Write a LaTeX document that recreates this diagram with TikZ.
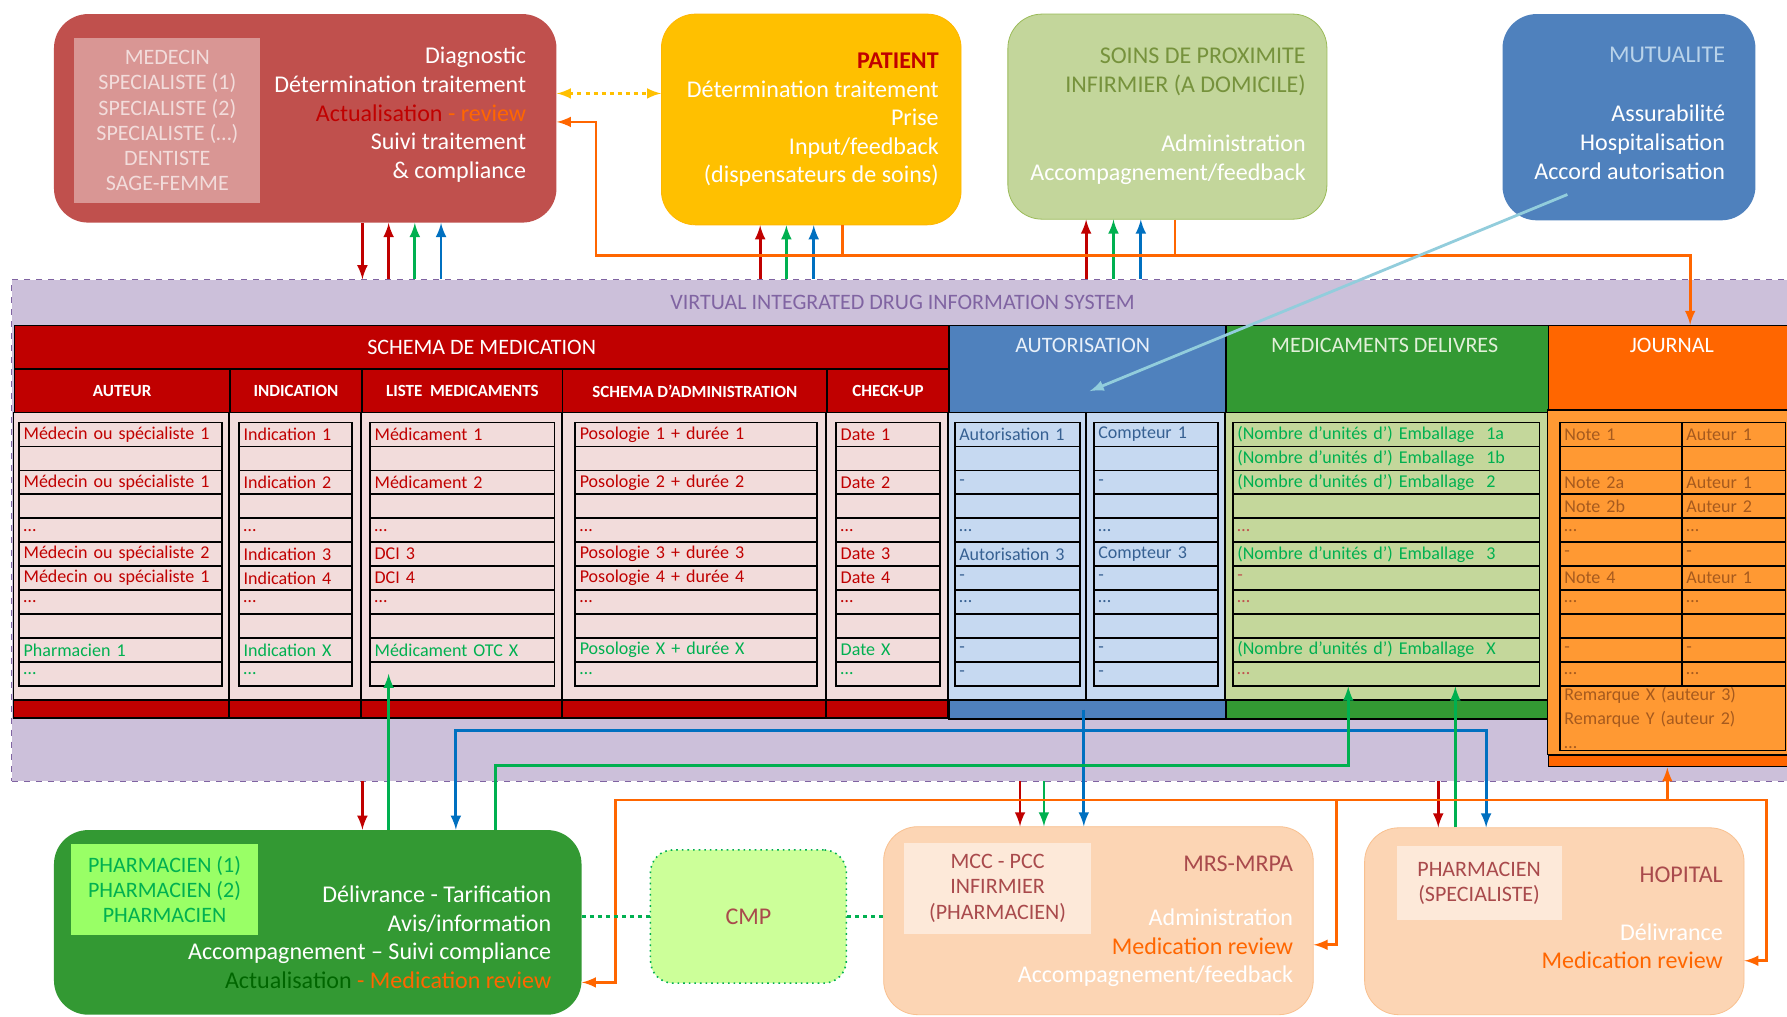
\documentclass[tikz,border=0pt]{standalone}
\usepackage{fontspec}
\setmainfont{Carlito}
\usepackage{xcolor}
\usetikzlibrary{positioning,arrows}

\definecolor{medred}{HTML}{C0504D}
\definecolor{medpink}{HTML}{D99694}
\definecolor{palepink}{HTML}{F2DCDB}
\definecolor{patyellow}{HTML}{FFC000}
\definecolor{soinsgreen}{HTML}{C3D69B}
\definecolor{soinsline}{HTML}{9BBB59}
\definecolor{olivetext}{HTML}{76923C}
\definecolor{mutblue}{HTML}{4F81BD}
\definecolor{mutpale}{HTML}{B9D3EA}
\definecolor{vidisfill}{HTML}{CCC0DA}
\definecolor{vidisline}{HTML}{8064A2}
\definecolor{tabred}{HTML}{C00000}
\definecolor{authbody}{HTML}{C6D9F1}
\definecolor{authtext}{HTML}{366092}
\definecolor{delgreen}{HTML}{339933}
\definecolor{delbody}{HTML}{C4D79B}
\definecolor{deltext}{HTML}{E2F0D9}
\definecolor{jourorange}{HTML}{FF6600}
\definecolor{jourbody}{HTML}{FF9933}
\definecolor{jourtext}{HTML}{A65A1E}
\definecolor{pharmlight}{HTML}{99FF66}
\definecolor{cmpgreen}{HTML}{CCFF99}
\definecolor{peach}{HTML}{FCD5B4}
\definecolor{peachline}{HTML}{F9C08F}
\definecolor{peachlight}{HTML}{FDE9D9}
\definecolor{rosebrown}{HTML}{A94A4C}
\definecolor{arrred}{HTML}{C00000}
\definecolor{arrgreen}{HTML}{00B050}
\definecolor{arrblue}{HTML}{0070C0}
\definecolor{arrorange}{HTML}{FF6600}
\definecolor{darkgreen}{HTML}{006600}
\definecolor{lightcyan}{HTML}{92CDDC}

\begin{document}
\begin{tikzpicture}[x=0.02cm,y=-0.02cm,>=latex,
    party/.style={rounded corners=0.6cm,anchor=north west,inner sep=0pt},
    inbox/.style={anchor=north west,inner sep=0pt},
    bigtxt/.style={anchor=north east,align=right,inner sep=0pt,font=\fontsize{12}{14.3}\selectfont},
    smalltxt/.style={align=center,inner sep=0pt,font=\fontsize{11}{12.6}\selectfont},
    hdr/.style={draw=black,line width=0.8pt,anchor=north west,inner sep=0pt},
    hdrtxt/.style={inner sep=0pt,font=\fontsize{11}{13}\selectfont},
    subhdr/.style={hdr,fill=tabred,text=white,font=\fontsize{8.5}{10}\selectfont\bfseries},
    cell/.style={draw=black,line width=0.8pt,anchor=north west,minimum height=0.42cm,
      inner xsep=0.08cm,inner ysep=0pt,align=left,text width=#1,font=\fontsize{9}{10}\selectfont},
    link/.style={line width=1.4pt}]
  \useasboundingbox (0,0) rectangle (1568,892);
  \fill[white] (0,0) rectangle (1568,892);

  % the information system band
  \node[anchor=north west,fill=vidisfill,draw=vidisline,dashed,inner sep=0pt,
    minimum width=31.4cm,minimum height=8.8cm] (vidis) at (10,245) {};
  \node[text=vidisline,font=\fontsize{11}{13}\selectfont] (vidistxt) at (792,265)
    {VIRTUAL INTEGRATED DRUG INFORMATION SYSTEM};

  % top actors
  \node[party,fill=medred,minimum width=8.82cm,minimum height=3.66cm] (medbox) at (47,12) {};
  \node[inbox,fill=medpink,minimum width=3.26cm,minimum height=2.9cm] (medlist) at (65,33) {};
  \node[smalltxt,text=palepink] (medlisttxt) at (medlist.center)
    {MEDECIN\\SPECIALISTE (1)\\SPECIALISTE (2)\\SPECIALISTE (…)\\DENTISTE\\SAGE-FEMME};
  \node[bigtxt,text=white] (medtxt) at (462,41) {Diagnostic\\Détermination traitement\\
    \textcolor{tabred}{Actualisation} \textcolor{arrorange}{- review}\\Suivi traitement\\\& compliance};

  \node[party,fill=patyellow,draw=patyellow!85!orange,minimum width=5.26cm,minimum height=3.7cm] (patient) at (580,12) {};
  \node[bigtxt,text=white] (pattxt) at (824,46) {\textcolor{tabred}{\textbf{PATIENT}}\\Détermination traitement\\
    Prise\\Input/feedback\\(dispensateurs de soins)};

  \node[party,fill=soinsgreen,draw=soinsline,minimum width=5.6cm,minimum height=3.6cm] (soins) at (884,12) {};
  \node[bigtxt,text=olivetext] (soinstitle) at (1146,42) {SOINS DE PROXIMITE\\INFIRMIER (A DOMICILE)};
  \node[bigtxt,text=white] (soinstxt) at (1146,118) {Administration\\Accompagnement/feedback};

  \node[party,fill=mutblue,minimum width=4.44cm,minimum height=3.62cm] (mutual) at (1318,12) {};
  \node[bigtxt,text=mutpale] (muttitle) at (1514,41) {MUTUALITE};
  \node[bigtxt,text=white] (muttxt) at (1514,92) {Assurabilité\\Hospitalisation\\Accord autorisation};

  % schema de medication
  \node[hdr,fill=tabred,text=white,font=\fontsize{11}{13}\selectfont,minimum width=16.4cm,minimum height=0.76cm] (schema) at (12,285) {SCHEMA DE MEDICATION};
  \node[subhdr,minimum width=3.78cm,minimum height=0.78cm] (auteur) at (12,323) {AUTEUR};
  \node[subhdr,minimum width=2.32cm,minimum height=0.78cm] (indication) at (201,323) {INDICATION};
  \node[subhdr,minimum width=3.52cm,minimum height=0.78cm] (liste) at (317,323) {LISTE \ MEDICAMENTS};
  \node[subhdr,minimum width=4.64cm,minimum height=0.78cm] (admin) at (493,323) {SCHEMA D’ADMINISTRATION};
  \node[subhdr,minimum width=2.14cm,minimum height=0.78cm] (checkup) at (725,323) {CHECK-UP};
  \foreach \xa/\xb in {12/201,201/317,317/493,493/725,725/832} {
    \draw[fill=palepink,line width=0.8pt] (\xa,362) rectangle (\xb,614);
    \draw[fill=tabred,line width=0.8pt] (\xa,614) rectangle (\xb,630);
  }
  \foreach \r/\ta/\tb/\tc/\td/\te/\col in {
      1/Médecin ou spécialiste 1/Indication 1/Médicament 1/Posologie 1 + durée 1/Date 1/tabred,
      2/{}/{}/{}/{}/{}/tabred,
      3/Médecin ou spécialiste 1/Indication 2/Médicament 2/Posologie 2 + durée 2/Date 2/tabred,
      4/{}/{}/{}/{}/{}/tabred,
      5/\ldots/\ldots/\ldots/\ldots/\ldots/tabred,
      6/Médecin ou spécialiste 2/Indication 3/DCI 3/Posologie 3 + durée 3/Date 3/tabred,
      7/Médecin ou spécialiste 1/Indication 4/DCI 4/Posologie 4 + durée 4/Date 4/tabred,
      8/\ldots/\ldots/\ldots/\ldots/\ldots/tabred,
      9/{}/{}/{}/{}/{}/tabred,
      10/Pharmacien 1/Indication X/Médicament OTC X/Posologie X + durée X/Date X/arrgreen,
      11/\ldots/\ldots/{}/\ldots/\ldots/arrgreen} {
    \node[cell=3.40cm,fill=palepink,text=\col] (au\r) at (16,{349+21*\r}) {\ta};
    \node[cell=1.82cm,fill=palepink,text=\col] (in\r) at (209,{349+21*\r}) {\tb};
    \node[cell=3.08cm,fill=palepink,text=\col] (li\r) at (324,{349+21*\r}) {\tc};
    \node[cell=4.08cm,fill=palepink,text=\col] (ad\r) at (504,{349+21*\r}) {\td};
    \node[cell=1.66cm,fill=palepink,text=\col] (ch\r) at (733,{349+21*\r}) {\te};
  }

  % autorisation
  \node[hdr,fill=mutblue,minimum width=4.86cm,minimum height=1.54cm] (authhdr) at (832,285) {};
  \node[hdrtxt,text=authbody!40!white] (authtxt) at (950,303) {AUTORISATION};
  \draw[fill=authbody,line width=0.8pt] (832,362) rectangle (1075,614);
  \draw[line width=0.8pt] (953,362) -- (953,614);
  \node[hdr,fill=mutblue,minimum width=4.86cm,minimum height=0.32cm] (authbar) at (832,614) {};
  \foreach \r/\ta/\tb in {1/Autorisation 1/Compteur 1,2/{}/{},3/-/-,4/{}/{},5/\ldots/\ldots,
      6/Autorisation 3/Compteur 3,7/-/-,8/\ldots/\ldots,9/{}/{},10/-/-,11/-/-} {
    \node[cell=2.04cm,fill=authbody,text=authtext] (aa\r) at (837,{349+21*\r}) {\ta};
    \node[cell=2.02cm,fill=authbody,text=authtext] (ab\r) at (959,{349+21*\r}) {\tb};
  }

  % medicaments delivres
  \node[hdr,fill=delgreen,minimum width=5.66cm,minimum height=1.54cm] (delhdr) at (1075,285) {};
  \node[hdrtxt,text=deltext] (deltxt) at (1215,303) {MEDICAMENTS DELIVRES};
  \draw[fill=delbody,line width=0.8pt] (1075,362) rectangle (1358,614);
  \node[hdr,fill=delgreen,minimum width=5.66cm,minimum height=0.32cm] (delbar) at (1075,614) {};
  \foreach \r/\ta/\col in {1/(Nombre d’unités d’) Emballage \ 1a/arrgreen,
      2/(Nombre d’unités d’) Emballage \ 1b/arrgreen,
      3/(Nombre d’unités d’) Emballage \ 2/arrgreen,
      4/{}/arrgreen,5/\ldots/medred,
      6/(Nombre d’unités d’) Emballage \ 3/arrgreen,
      7/-/medred,8/\ldots/medred,9/{}/arrgreen,
      10/(Nombre d’unités d’) Emballage \ X/arrgreen,
      11/\ldots/medred} {
    \node[cell=5.22cm,fill=delbody,text=\col] (de\r) at (1081,{349+21*\r}) {\ta};
  }

  % journal
  \node[hdr,fill=jourorange,minimum width=4.44cm,minimum height=1.5cm] (journal) at (1358,285) {};
  \node[hdrtxt,text=white] (jourtxt) at (1467,303) {JOURNAL};
  \draw[fill=jourbody,line width=0.8pt] (1358,360) rectangle (1580,662);
  \node[hdr,fill=jourorange,minimum width=4.44cm,minimum height=0.2cm] (jourbar) at (1358,662) {};
  \foreach \r/\ta/\tb in {1/Note 1/Auteur 1,2/{}/{},3/Note 2a/Auteur 1,4/Note 2b/Auteur 2,
      5/\ldots/\ldots,6/-/-,7/Note 4/Auteur 1,8/\ldots/\ldots,9/{}/{},10/-/-,11/\ldots/\ldots} {
    \node[cell=1.98cm,fill=jourbody,text=jourtext] (ja\r) at (1368,{349+21*\r}) {\ta};
    \node[cell=1.66cm,fill=jourbody,text=jourtext] (jb\r) at (1475,{349+21*\r}) {\tb};
  }
  \node[cell=3.80cm,fill=jourbody,text=jourtext,minimum height=1.14cm,font=\fontsize{9}{12}\selectfont] (remark) at (1368,601)
    {Remarque X (auteur 3)\\Remarque Y (auteur 2)\\\ldots};

  % bottom actors
  \node[party,fill=delgreen,minimum width=9.26cm,minimum height=3.24cm] (pharma) at (47,728) {};
  \node[inbox,fill=pharmlight,minimum width=3.28cm,minimum height=1.6cm] (pharmlist) at (62,740) {};
  \node[smalltxt,text=arrgreen] (pharmlisttxt) at (pharmlist.center) {PHARMACIEN (1)\\PHARMACIEN (2)\\PHARMACIEN};
  \node[bigtxt,text=white] (pharmtxt) at (484,777) {Délivrance - Tarification\\Avis/information\\
    Accompagnement – Suivi compliance\\\textcolor{darkgreen}{Actualisation} \textcolor{arrorange}{- Medication review}};

  \node[party,rounded corners=0.4cm,fill=cmpgreen,draw=arrgreen,dotted,thick,text=rosebrown,
    font=\fontsize{12}{14}\selectfont,minimum width=3.44cm,minimum height=2.34cm] (cmp) at (570,745) {CMP};

  \node[party,fill=peach,draw=peachline,minimum width=7.54cm,minimum height=3.3cm] (mrs) at (775,725) {};
  \node[inbox,fill=peachlight,minimum width=3.28cm,minimum height=1.6cm] (mrslist) at (793,739) {};
  \node[smalltxt,text=rosebrown] (mrslisttxt) at (mrslist.center) {MCC - PCC\\INFIRMIER\\(PHARMACIEN)};
  \node[bigtxt,text=rosebrown] (mrstitle) at (1135,751) {MRS-MRPA};
  \node[bigtxt,text=white] (mrstxt) at (1135,797) {Administration\\\textcolor{arrorange}{Medication review}\\Accompagnement/feedback};

  \node[party,fill=peach,draw=peachline,minimum width=6.66cm,minimum height=3.28cm] (hopital) at (1197,726) {};
  \node[inbox,fill=peachlight,minimum width=2.9cm,minimum height=1.3cm] (hoplist) at (1225,742) {};
  \node[smalltxt,text=rosebrown] (hoplisttxt) at (hoplist.center) {PHARMACIEN\\(SPECIALISTE)};
  \node[bigtxt,text=rosebrown] (hoptitle) at (1512,760) {HOPITAL};
  \node[bigtxt,text=white] (hoptxt) at (1512,810) {Délivrance\\\textcolor{arrorange}{Medication review}};

  % links with the top actors
  \draw[->,link,arrred] (medbox.south -| 318,0) -- (vidis.north -| 318,0);
  \draw[->,link,arrred] (vidis.north -| 341,0) -- (medbox.south -| 341,0);
  \draw[->,link,arrgreen] (vidis.north -| 364,0) -- (medbox.south -| 364,0);
  \draw[->,link,arrblue] (vidis.north -| 387,0) -- (medbox.south -| 387,0);
  \draw[->,link,arrred] (vidis.north -| 667,0) -- (patient.south -| 667,0);
  \draw[->,link,arrgreen] (vidis.north -| 690,0) -- (patient.south -| 690,0);
  \draw[->,link,arrblue] (vidis.north -| 714,0) -- (patient.south -| 714,0);
  \draw[->,link,arrred] (vidis.north -| 953,0) -- (soins.south -| 953,0);
  \draw[->,link,arrgreen] (vidis.north -| 977,0) -- (soins.south -| 977,0);
  \draw[->,link,arrblue] (vidis.north -| 1001,0) -- (soins.south -| 1001,0);
  \coordinate (topbusW) at (523,224);
  \coordinate (topbusE) at (1483,224);
  \draw[->,link,arrorange] (topbusE) -- (topbusW) |- (medbox.east |- 0,107);
  \draw[->,link,arrorange] (topbusW) -- (topbusE) -- (journal.north -| topbusE);
  \draw[link,arrorange] (patient.south -| 739,0) -- (topbusW -| 739,0);
  \draw[link,arrorange] (soins.south -| 1031,0) -- (topbusW -| 1031,0);
  \draw[<->,link,patyellow,dash pattern=on 2pt off 2pt] (medbox.east |- 0,82) -- (patient.west |- 0,82);
  \draw[->,link,lightcyan] ([shift={(-54,-23)}]mutual.south) -- ([shift={(2,19)}]authhdr.center);

  % links with the bottom actors
  \draw[->,link,arrred] (vidis.south -| 318,0) -- (pharma.north -| 318,0);
  \draw[->,link,arrgreen] (pharma.north -| 341,0) -- (li11.center -| 341,0);
  \coordinate (bluebus) at (800,641);
  \coordinate (greenbus) at (800,672);
  \draw[<->,link,arrblue] (pharma.north -| 400,0) |- (bluebus) -| (hopital.north -| 1304,0);
  \draw[->,link,arrblue] (authbar.center -| 951,0) -- (mrs.north -| 951,0);
  \draw[<-,link,arrgreen] (de11.south -| 1183,0) |- (greenbus) -| (pharma.north -| 435,0);
  \draw[->,link,arrgreen] (hopital.north -| 1277,0) -- (de11.south -| 1277,0);
  \draw[->,link,arrred] (vidis.south -| 895,0) -- (mrs.north -| 895,0);
  \draw[->,link,arrgreen] (vidis.south -| 916,0) -- (mrs.north -| 916,0);
  \draw[->,link,arrred] (vidis.south -| 1262,0) -- (hopital.north -| 1262,0);
  \coordinate (botbusW) at (540,702);
  \coordinate (botbusE) at (1550,702);
  \draw[->,link,arrorange] (botbusE) -- (botbusW) |- (pharma.east |- 0,862);
  \draw[->,link,arrorange] (botbusW) -- (botbusE) |- (hopital.east |- 0,843);
  \draw[->,link,arrorange] (botbusW -| 1173,0) |- (mrs.east |- 0,829);
  \draw[->,link,arrorange] (botbusW -| 1463,0) -- (jourbar.south -| 1463,0);
  \draw[link,arrgreen,dash pattern=on 2pt off 2pt] (pharma.east |- cmp.west) -- (cmp.west);
  \draw[link,arrgreen,dash pattern=on 2pt off 2pt] (cmp.east) -- (mrs.west |- cmp.east);
\end{tikzpicture}
\end{document}
